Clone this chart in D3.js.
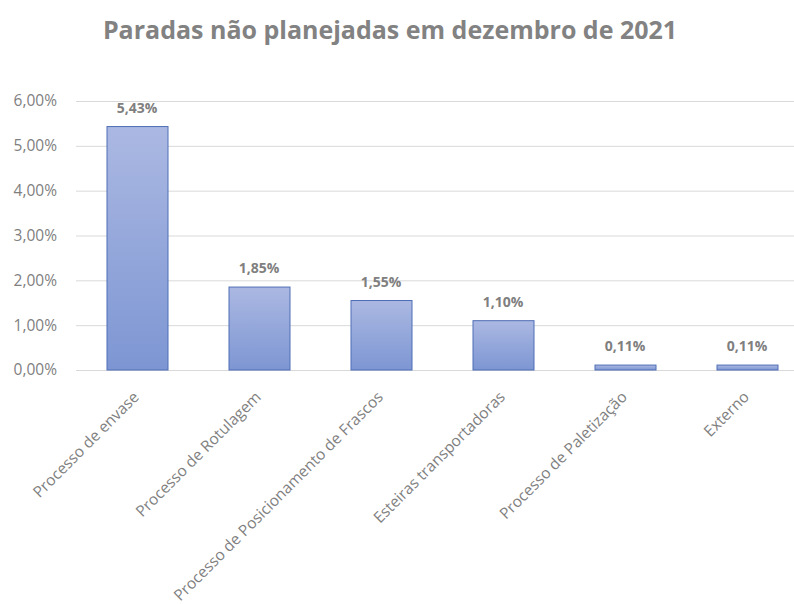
<!DOCTYPE html>
<html>
<head>
<meta charset="utf-8">
<script src="https://cdn.jsdelivr.net/npm/d3@7"></script>
<style>
  body { margin: 0; background: #fff; }
  text { font-family: "Open Sans", "Noto Sans", sans-serif; }
</style>
</head>
<body>
<div id="chart-area"></div>
<script>
// Paradas nao planejadas - bar chart

const categories = ["Processo de envase", "Processo de Rotulagem", "Processo de Posicionamento de Frascos",
  "Esteiras transportadoras", "Processo de Paletização", "Externo"]
const values = [5.43, 1.85, 1.55, 1.10, 0.11, 0.11]
const yTicks = [0, 1, 2, 3, 4, 5, 6]
const title = "Paradas não planejadas em dezembro de 2021"

const W = 794, H = 604
const MARGIN = { LEFT: 76, TOP: 101, BOTTOM: 370 }

const svg = d3.select("#chart-area").append("svg")
    .attr("width", W)
    .attr("height", H)

// gradient for bars
const grad = svg.append("defs").append("linearGradient")
    .attr("id", "barGrad")
    .attr("x1", 0).attr("y1", 0).attr("x2", 0).attr("y2", 1)
grad.append("stop").attr("offset", "0%").attr("stop-color", "#abb8e2")
grad.append("stop").attr("offset", "100%").attr("stop-color", "#7d96d3")

const fmt = v => v.toFixed(2).replace(".", ",") + "%"

const x = d3.scaleBand()
    .domain(categories)
    .range([MARGIN.LEFT, MARGIN.LEFT + 122 * 6])
    .paddingInner(0.5)
    .paddingOuter(0.25)

const y = d3.scaleLinear()
    .domain([0, 6])
    .range([MARGIN.BOTTOM, MARGIN.TOP])

// title
svg.append("text")
  .attr("x", 390)
  .attr("y", 39)
  .attr("text-anchor", "middle")
  .attr("font-size", "25px")
  .attr("font-weight", "bold")
  .attr("fill", "#828282")
  .text(title)

// gridlines
svg.append("g")
  .selectAll("line")
  .data(yTicks)
  .enter().append("line")
    .attr("x1", MARGIN.LEFT)
    .attr("x2", W)
    .attr("y1", d => y(d) + 0.5)
    .attr("y2", d => y(d) + 0.5)
    .attr("stroke", "#d9d9d9")
    .attr("stroke-width", 1)

// y axis labels
const yAxisCall = d3.axisLeft(y)
    .tickValues(yTicks)
    .tickSize(0)
    .tickPadding(0)
    .tickFormat(fmt)
const yAxisGroup = svg.append("g")
    .attr("transform", "translate(57, 0)")
    .call(yAxisCall)
yAxisGroup.select(".domain").remove()
yAxisGroup.selectAll("text")
    .attr("font-size", "15.5px")
    .attr("fill", "#7f7f7f")
    .style("font-family", "Open Sans, sans-serif")

// bars
svg.selectAll("rect.bar")
  .data(values)
  .enter().append("rect")
    .attr("class", "bar")
    .attr("x", (d, i) => x(categories[i]) + 0.5)
    .attr("y", d => y(d))
    .attr("width", x.bandwidth())
    .attr("height", d => y(0) - y(d))
    .attr("fill", "url(#barGrad)")
    .attr("stroke", "#4f6eb5")
    .attr("stroke-width", 1)

// value labels
svg.selectAll("text.val")
  .data(values)
  .enter().append("text")
    .attr("class", "val")
    .attr("x", (d, i) => x(categories[i]) + x.bandwidth() / 2)
    .attr("y", d => y(d) - 14)
    .attr("text-anchor", "middle")
    .attr("font-size", "14px")
    .attr("font-weight", "bold")
    .attr("fill", "#7f7f7f")
    .text(fmt)

// category labels
svg.selectAll("text.cat")
  .data(categories)
  .enter().append("text")
    .attr("class", "cat")
    .attr("transform", d => `translate(${x(d) + x.bandwidth() / 2 + 3}, 398) rotate(-45)`)
    .attr("text-anchor", "end")
    .attr("font-size", "15.5px")
    .attr("fill", "#7f7f7f")
    .text(d => d)
</script>
</body>
</html>
